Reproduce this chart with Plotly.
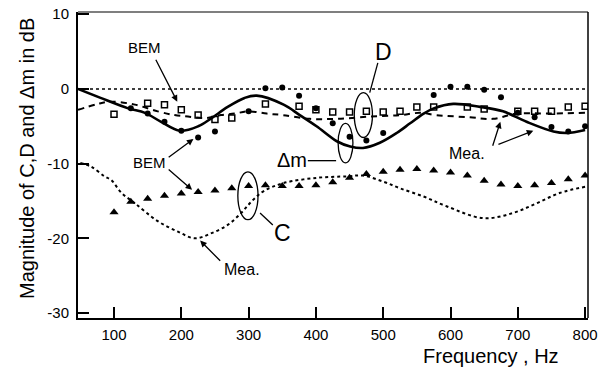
import plotly.graph_objects as go

# ---------------- data ----------------
ref_freq = [46.5, 804]
ref_db = [0, 0]

# D, measured (solid)
d_mea_freq = [46.5, 80, 121, 146, 170, 198, 225, 245, 269, 294, 312, 352, 376, 401, 431, 451,
              470, 495, 520, 540, 560, 575, 604, 644, 678, 713, 753, 773, 800]
d_mea_db = [0.0, -1.2, -2.6, -3.2, -4.4, -5.6, -5.0, -3.9, -2.4, -1.2, -0.9, -2.1, -3.5, -5.0, -7.0, -7.7,
            -7.9, -7.2, -5.9, -4.6, -3.3, -2.6, -2.0, -2.4, -3.0, -4.4, -5.7, -5.9, -5.5]

# Delta m, measured (dashed)
dm_mea_freq = [46.5, 76, 96, 131, 165, 190, 210, 235, 259, 279, 300, 327, 351, 391, 431, 480,
               525, 555, 579, 629, 663, 698, 743, 800]
dm_mea_db = [-2.8, -2.0, -1.7, -2.1, -3.0, -3.5, -3.7, -3.9, -3.5, -3.3, -3.0, -3.3, -3.5, -4.0, -4.0, -3.7,
             -3.5, -3.2, -3.5, -3.8, -4.0, -3.3, -3.3, -3.2]

# C, measured (dotted)
c_mea_freq = [50, 66, 86, 96, 111, 131, 165, 195, 220, 245, 269, 289, 304, 322, 352, 401, 446, 470,
              500, 525, 560, 594, 649, 693, 728, 763, 800]
c_mea_db = [-9.9, -10.4, -11.7, -12.2, -13.9, -15.3, -17.7, -19.1, -20.0, -19.3, -18.2, -16.6, -15.1, -13.7,
            -12.6, -11.9, -11.7, -11.6, -12.4, -13.3, -14.4, -15.7, -17.3, -16.6, -15.3, -13.9, -13.1]

# D, BEM (open squares)
d_bem_freq = [100, 150, 175, 200, 225, 250, 275, 325, 375, 400, 425, 450, 475, 500, 525, 550, 575,
              625, 650, 700, 725, 750, 775, 800]
d_bem_db = [-3.4, -1.9, -2.1, -2.8, -3.5, -4.1, -3.9, -2.0, -2.3, -2.8, -3.1, -3.1, -3.0, -3.1, -3.0, -2.4,
            -2.4, -2.4, -2.7, -3.0, -3.0, -3.0, -2.4, -2.3]

# Delta m, BEM (filled circles)
dm_bem_freq = [125, 150, 175, 200, 225, 250, 300, 325, 350, 375, 400, 425, 450, 475, 500, 575, 600,
               625, 650, 675, 700, 725, 750, 775, 800]
dm_bem_db = [-2.6, -3.3, -4.4, -5.6, -6.5, -5.7, -3.0, 0.1, 0.2, -0.9, -2.6, -4.6, -6.4, -6.9, -5.9, -0.8, 0.3,
             0.3, -0.1, -1.1, -3.2, -3.8, -5.1, -5.7, -5.0]

# C, BEM (filled triangles)
c_bem_freq = [100, 125, 150, 175, 200, 225, 250, 275, 300, 325, 350, 375, 400, 425, 450, 475, 500, 525,
              550, 575, 600, 625, 650, 675, 700, 725, 750, 775, 800]
c_bem_db = [-16.5, -15.1, -14.7, -14.3, -14.0, -13.8, -13.6, -13.3, -13.0, -12.9, -13.0, -13.0, -12.9, -12.5,
            -11.9, -11.4, -11.1, -10.8, -10.7, -10.9, -11.2, -11.6, -12.3, -12.8, -13.0, -12.9, -12.6, -12.1, -11.6]

x_ticks = [100, 200, 300, 400, 500, 600, 700, 800]
y_ticks = [10, 0, -10, -20, -30]

FONT = "Liberation Sans, Arial, sans-serif"
INK = "black"

fig = go.Figure()

fig.add_trace(go.Scatter(x=ref_freq, y=ref_db, mode="lines",
                         line=dict(color=INK, width=1.6, dash="dot"), showlegend=False))
fig.add_trace(go.Scatter(x=d_mea_freq, y=d_mea_db, mode="lines", line_shape="spline",
                         line=dict(color=INK, width=2.6), showlegend=False))
fig.add_trace(go.Scatter(x=dm_mea_freq, y=dm_mea_db, mode="lines", line_shape="spline",
                         line=dict(color=INK, width=2, dash="6px,5px"), showlegend=False))
fig.add_trace(go.Scatter(x=c_mea_freq, y=c_mea_db, mode="lines", line_shape="spline",
                         line=dict(color=INK, width=2, dash="dot"), showlegend=False))
fig.add_trace(go.Scatter(x=d_bem_freq, y=d_bem_db, mode="markers",
                         marker=dict(symbol="square-open", size=6, color=INK, line=dict(width=1.5, color=INK)),
                         showlegend=False))
fig.add_trace(go.Scatter(x=dm_bem_freq, y=dm_bem_db, mode="markers",
                         marker=dict(symbol="circle", size=6, color=INK), showlegend=False))
fig.add_trace(go.Scatter(x=c_bem_freq, y=c_bem_db, mode="markers",
                         marker=dict(symbol="triangle-up", size=8, color=INK), showlegend=False))

ann = []
def label(x, y, text, size):
    ann.append(dict(x=x, y=y, xref="x", yref="y", text=text, showarrow=False,
                    font=dict(family=FONT, size=size, color=INK)))

def arrow(x0, y0, x1, y1, head=2):
    ann.append(dict(x=x1, y=y1, ax=x0, ay=y0, xref="x", yref="y", axref="x", ayref="y",
                    text="", showarrow=True, arrowhead=head, arrowsize=1, arrowwidth=1.3,
                    arrowcolor=INK, standoff=0, startstandoff=0))

label(146, 5.6, "BEM", 15)
arrow(161, 4.1, 194, -1.7)
label(153, -9.9, "BEM", 15)
arrow(179, -9.3, 218, -6.7)
arrow(179, -10.6, 216, -13.5)
label(500, 5.0, "D", 23)
label(364, -9.5, "Δm", 20)
label(351, -19.3, "C", 23)
label(290, -24.2, "Mea.", 16)
arrow(260, -23.2, 228, -20.3)
label(625, -8.6, "Mea.", 16)
arrow(662, -7.8, 674, -4.4)
arrow(669, -7.5, 723, -5.6)

# plot area in pixels: x 78..588, y 12..318
ann.append(dict(x=(491 - 78) / 510, y=(318 - 356) / 306, xref="paper", yref="paper",
                text="Frequency , Hz", showarrow=False, yanchor="middle", xanchor="center",
                font=dict(family=FONT, size=20, color=INK)))
ann.append(dict(x=(27 - 78) / 510, y=(318 - 159) / 306, xref="paper", yref="paper", textangle=-90,
                text="Magnitude of C,D and Δm in dB", showarrow=False, xanchor="center", yanchor="middle",
                font=dict(family=FONT, size=20, color=INK)))

shapes = [
    dict(type="line", xref="x", yref="y", x0=492, y0=3.5, x1=480, y1=-0.5, line=dict(color=INK, width=1.3)),
    dict(type="circle", xref="x", yref="y", x0=457, x1=484, y0=-0.5, y1=-6.5, line=dict(color=INK, width=1.3)),
    dict(type="line", xref="x", yref="y", x0=388, y0=-9.6, x1=430, y1=-9.6, line=dict(color=INK, width=1.3)),
    dict(type="circle", xref="x", yref="y", x0=433, x1=455, y0=-4.6, y1=-9.9, line=dict(color=INK, width=1.3)),
    dict(type="circle", xref="x", yref="y", x0=284, x1=314, y0=-11.1, y1=-17.5, line=dict(color=INK, width=1.3)),
    dict(type="line", xref="x", yref="y", x0=317, y0=-16.6, x1=336, y1=-18.2, line=dict(color=INK, width=1.3)),
    dict(type="line", xref="paper", yref="paper", x0=0, x1=1, y0=1, y1=1, line=dict(color=INK, width=1.2)),
    dict(type="line", xref="paper", yref="paper", x0=1, x1=1, y0=0, y1=1, line=dict(color=INK, width=1.5)),
]

fig.update_layout(
    width=598, height=369,
    margin=dict(l=78, r=10, t=12, b=51, autoexpand=False),
    paper_bgcolor="white", plot_bgcolor="white",
    annotations=ann, shapes=shapes,
    font=dict(family=FONT, color=INK),
)
fig.update_xaxes(range=[46.5, 804.3], tickvals=x_ticks, ticks="inside", ticklen=11, tickwidth=2,
                 tickcolor=INK, showline=True, linecolor=INK, linewidth=2, showgrid=False, zeroline=False,
                 tickfont=dict(family=FONT, size=15, color=INK), ticklabelstandoff=2, automargin=False)
fig.update_yaxes(range=[-30.66, 10.3], tickvals=y_ticks, ticktext=["10", "0", "-10", "-20", "-30"],
                 ticks="inside", ticklen=11, tickwidth=2,
                 tickcolor=INK, showline=True, linecolor=INK, linewidth=2, showgrid=False, zeroline=False,
                 tickfont=dict(family=FONT, size=15, color=INK), ticklabelstandoff=4, automargin=False)

fig.write_html("out.html", config={"displayModeBar": False},
               post_script="document.body.style.margin='0';document.body.style.overflow='hidden';")
